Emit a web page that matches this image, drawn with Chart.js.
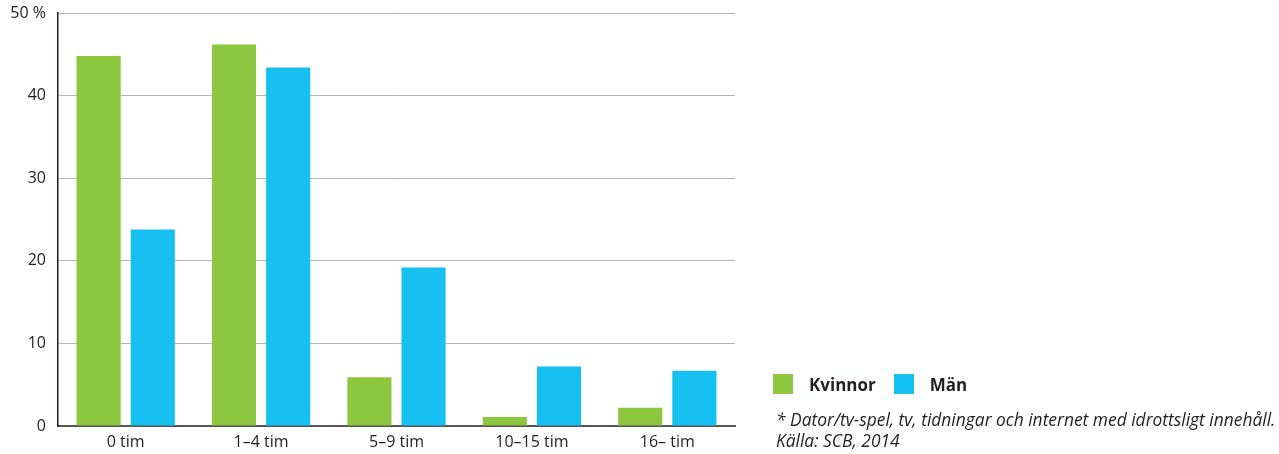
<!DOCTYPE html>
<html>
<head>
<meta charset="utf-8">
<script src="https://cdn.jsdelivr.net/npm/chart.js@4/dist/chart.umd.min.js"></script>
<style>
  body { margin: 0; background: #fff; font-family: 'Open Sans', sans-serif; color: #231f20; }
  #wrap { position: relative; width: 1279px; height: 454px; }
  #legend { position: absolute; left: 773px; top: 374px; font-size: 17px; font-weight: bold; line-height: 22px; }
  #legend span.box { display: inline-block; width: 20px; height: 20px; vertical-align: -3px; }
  #legend span.lbl { margin: 0 18px 0 16px; }
  #note { position: absolute; left: 776px; top: 409px; font-size: 17.4px; font-style: italic; line-height: 21px; white-space: nowrap; }
</style>
</head>
<body>
<div id="wrap">
  <canvas id="myChart" width="1279" height="454"></canvas>
  <div id="legend"></div>
  <div id="note">* Dator/tv-spel, tv, tidningar och internet med idrottsligt innehåll.<br>Källa: SCB, 2014</div>
</div>
<script>
// andel per antal timmar i veckan
const kategorier = ['0 tim', '1–4 tim', '5–9 tim', '10–15 tim', '16– tim'];
const kvinnor = [44.8, 46.2, 5.9, 1.1, 2.2];
const man = [23.8, 43.4, 19.2, 7.2, 6.7];
const yTicks = [0, 10, 20, 30, 40, 50];

const gron = '#8dc63f';
const bla = '#16c0f0';

const ctx = document.getElementById('myChart');

new Chart(ctx, {
  type: 'bar',
  data: {
    labels: kategorier,
    datasets: [
      { label: 'Kvinnor', data: kvinnor, backgroundColor: gron },
      { label: 'Män', data: man, backgroundColor: bla }
    ]
  },
  options: {
    responsive: false,
    animation: false,
    categoryPercentage: 0.8,
    barPercentage: 0.815,
    layout: { padding: { left: 0, top: 13, right: 544, bottom: 0 } },
    plugins: { legend: { display: false }, tooltip: { enabled: false } },
    scales: {
      x: {
        grid: { display: false, drawTicks: false },
        border: { color: '#555', width: 2 },
        ticks: { color: '#231f20', font: { family: 'Open Sans', size: 16 }, padding: 7 },
        afterFit: s => { s.height = 28; s.paddingLeft = 0; s.paddingRight = 0; }
      },
      y: {
        min: 0,
        max: 50,
        afterBuildTicks: s => { s.ticks = yTicks.map(v => ({ value: v })); },
        grid: { color: '#b5b5b5', drawTicks: false },
        border: { color: '#231f20', width: 1.5 },
        ticks: {
          color: '#231f20',
          font: { family: 'Open Sans', size: 16 },
          padding: 12,
          callback: v => v === 50 ? '50 %' : v
        },
        afterFit: s => { s.width = 58; s.paddingTop = 0; s.paddingBottom = 0; }
      }
    }
  }
});

// legend som html
const leg = document.getElementById('legend');
[['Kvinnor', gron], ['Män', bla]].forEach(([namn, farg]) => {
  leg.innerHTML += '<span class="box" style="background:' + farg + '"></span><span class="lbl">' + namn + '</span>';
});
</script>
</body>
</html>
